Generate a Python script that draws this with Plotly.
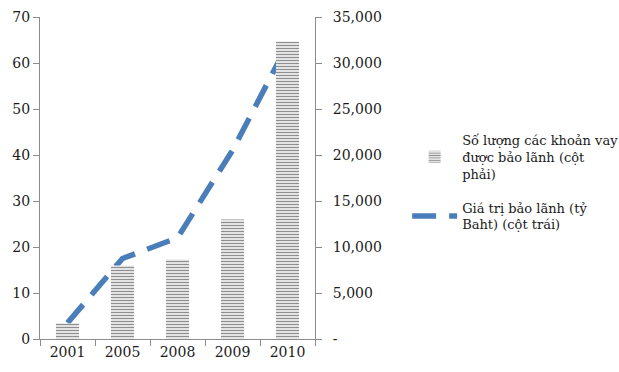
import plotly.graph_objects as go

years = ["2001", "2005", "2008", "2009", "2010"]
# Number of guaranteed loans (right axis)
so_luong = [1700, 8000, 8650, 13000, 32350]
# Guarantee value, billion Baht (left axis)
gia_tri = [3.5, 17.5, 22, 41, 64]

left_ticks = [0, 10, 20, 30, 40, 50, 60, 70]
right_ticks = [0, 5000, 10000, 15000, 20000, 25000, 30000, 35000]
right_labels = ["-", "5,000", "10,000", "15,000", "20,000", "25,000", "30,000", "35,000"]

FONT = "DejaVu Serif"
AXIS = "#8c8c8c"

fig = go.Figure()

fig.add_trace(go.Bar(
    x=years, y=so_luong, yaxis="y2", width=0.42, legendgroup="loans",
    name="Số lượng các khoản vay<br>được bảo lãnh (cột<br>phải)",
    marker=dict(
        color="white",
        line=dict(width=0),
        pattern=dict(shape="-", size=3.0, solidity=0.5,
                     fgcolor="#1e1e1e", bgcolor="white", fillmode="overlay"),
    ),
))

fig.add_trace(go.Scatter(
    x=years, y=gia_tri, yaxis="y", mode="lines", legendgroup="value",
    name="Giá trị bảo lãnh (tỷ<br>Baht) (cột trái)",
    line=dict(color="#4a7ebb", width=5.5, dash="24px,13px"),
))

fig.update_layout(
    width=619, height=372,
    margin=dict(l=40, r=304, t=17, b=33, autoexpand=False),
    plot_bgcolor="white", paper_bgcolor="white",
    font=dict(family=FONT, size=14, color="#1a1a1a"),
    showlegend=True,
    bargap=0.5,
    xaxis=dict(
        showline=True, linecolor=AXIS, linewidth=1,
        ticks="outside", tickson="boundaries", ticklen=6, tickcolor=AXIS,
        showgrid=False, zeroline=False,
    ),
    yaxis=dict(
        range=[0, 70], tickvals=left_ticks,
        showline=True, linecolor=AXIS, linewidth=1,
        ticks="outside", ticklen=6, tickcolor=AXIS,
        showgrid=False, zeroline=False,
    ),
    yaxis2=dict(
        range=[0, 35000], tickvals=right_ticks, ticktext=right_labels,
        overlaying="y", side="right",
        showline=True, linecolor=AXIS, linewidth=1,
        ticks="outside", ticklen=6, tickcolor=AXIS,
        showgrid=False, zeroline=False, ticklabelstandoff=8,
    ),
    legend=dict(
        x=1.335, y=0.665, xanchor="left", yanchor="top",
        traceorder="grouped", itemwidth=45,
        font=dict(family=FONT, size=13, color="#1a1a1a"),
        tracegroupgap=14, bgcolor="rgba(0,0,0,0)",
    ),
)

fig.write_html("out.html")
